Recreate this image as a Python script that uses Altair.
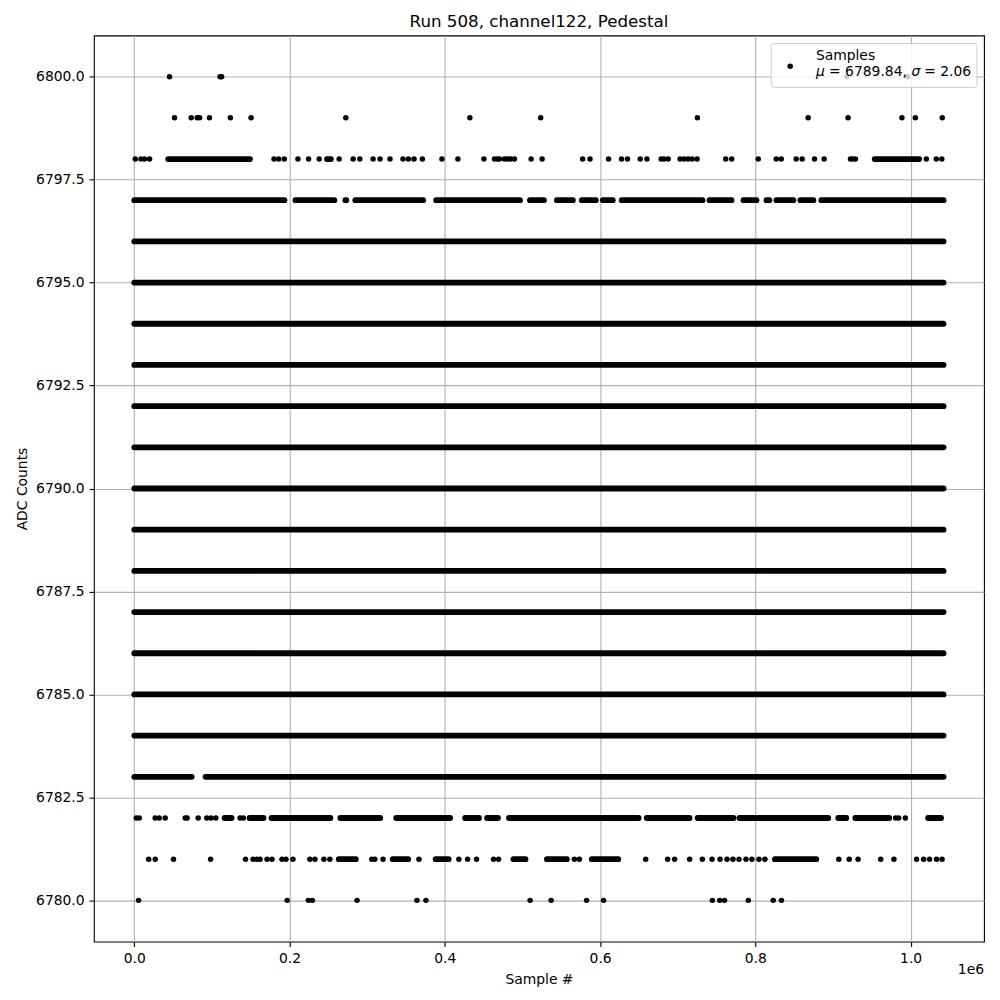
import altair as alt
import pandas as pd

TITLE = "Run 508, channel122, Pedestal"
X_TICKS = [0, 200000, 400000, 600000, 800000, 1000000]
Y_TICKS = [6780.0, 6782.5, 6785.0, 6787.5, 6790.0, 6792.5, 6795.0, 6797.5, 6800.0]
LAST_SAMPLE = 1042400
MU = 6789.84
SIGMA = 2.06

# rows filled continuously over the whole run
dense_levels = list(range(6784, 6797))

# rows with stretches of continuous samples: (first, last) sample of each stretch
seg_6797 = [(0, 193400), (207600, 257700), (271800, 273100), (284700, 372100),
            (388800, 496800), (509600, 527600), (544300, 564900), (576500, 594500),
            (603500, 616300), (627900, 732000), (741000, 769300), (784700, 801400),
            (814300, 818100), (827100, 849000), (858000, 874700), (885000, 1042400)]
seg_6798 = [(43700, 149100), (248100, 253200), (953700, 1011000)]
seg_6783 = [(0, 73900), (91800, 1042400)]
seg_6782 = [(116300, 125300), (148500, 166400), (176700, 252600), (265400, 316800),
            (337400, 406800), (426100, 444100), (454400, 468500), (482600, 649700),
            (660000, 715300), (725600, 771900), (779500, 893900), (906800, 917100),
            (928700, 972400), (1022500, 1039200)]
seg_6781 = [(263500, 285300), (332900, 352800), (388200, 404900), (488400, 503900),
            (531500, 557200), (589300, 623400), (825200, 878500)]

# isolated samples
pts_6800 = [45400, 110500, 112500, 917700, 996100]
pts_6799 = [51800, 73300, 81000, 84200, 96800, 123800, 150400, 272500, 432300,
            523500, 725300, 868000, 919400, 988800, 1006000, 1040700]
pts_6798 = [1300, 8600, 13200, 19700, 180000, 186000, 193200, 210800, 224500, 238200,
            263900, 281900, 290500, 307600, 316600, 329400, 346100, 353100, 360300,
            371100, 396300, 416800, 450300, 464000, 467900, 470400, 476900, 480700,
            484600, 489700, 511200, 525300, 577500, 587000, 610900, 627600, 635300,
            651700, 660300, 678700, 682500, 687700, 703100, 708200, 713400, 718500,
            724900, 761800, 769500, 803700, 826900, 833300, 852600, 860300, 876200,
            888600, 922500, 925400, 928900, 1020200, 1033000, 1040200]
pts_6782 = [2600, 6400, 26900, 32100, 39800, 65600, 68100, 82300, 93400, 99000,
            105100, 136200, 140400, 980700, 984600, 993200]
pts_6781 = [18600, 27000, 50500, 98300, 143300, 153000, 158100, 162000, 171000, 177400,
            190200, 195400, 204400, 226200, 232700, 244200, 251900, 305900, 309800,
            320400, 366700, 418100, 429300, 440900, 462700, 469200, 566800, 573300,
            658700, 687000, 696000, 715300, 731700, 744200, 754500, 763500, 771200,
            778900, 787900, 795600, 804600, 812300, 907500, 920900, 932300, 961400,
            978500, 1007700, 1016700, 1024400, 1033400, 1040500]
pts_6780 = [5500, 197000, 224300, 229400, 287000, 364100, 375700, 509900, 536900,
            582600, 604500, 744600, 754100, 760300, 790900, 823000, 833600]

seg_rows = [{"level": lv, "start": 0, "end": LAST_SAMPLE} for lv in dense_levels]
for lv, segs in [(6797, seg_6797), (6798, seg_6798), (6783, seg_6783),
                 (6782, seg_6782), (6781, seg_6781)]:
    for s, e in segs:
        seg_rows.append({"level": lv, "start": s, "end": e})
seg_df = pd.DataFrame(seg_rows)

pt_rows = []
for lv, pts in [(6800, pts_6800), (6799, pts_6799), (6798, pts_6798),
                (6782, pts_6782), (6781, pts_6781), (6780, pts_6780)]:
    for s in pts:
        pt_rows.append({"level": lv, "sample": s})
pt_df = pd.DataFrame(pt_rows)

FONT = "DejaVu Sans"
xscale = alt.Scale(domain=[-52000, 1094500], nice=False, zero=False)
yscale = alt.Scale(domain=[6779, 6801], nice=False, zero=False)
xaxis = alt.Axis(values=X_TICKS, labelExpr="format(datum.value / 1000000, '.1f')",
                 title="Sample #", labelFlush=False)
yaxis = alt.Axis(values=Y_TICKS, format=".1f", title="ADC Counts", labelFlush=False)

segs = alt.Chart(seg_df).mark_rule(strokeWidth=5.8, strokeCap="round", color="black").encode(
    x=alt.X("start:Q", scale=xscale, axis=xaxis),
    x2="end:Q",
    y=alt.Y("level:Q", scale=yscale, axis=yaxis),
)
pts = alt.Chart(pt_df).mark_circle(size=30, color="black", opacity=1).encode(
    x=alt.X("sample:Q", scale=xscale, axis=xaxis),
    y=alt.Y("level:Q", scale=yscale, axis=yaxis),
)

one = pd.DataFrame({"k": [0]})
leg_box = alt.Chart(one).mark_rect(fill="white", fillOpacity=0.8, stroke="#cccccc",
                                   strokeWidth=1, cornerRadius=3).encode(
    x=alt.value(678), x2=alt.value(884), y=alt.value(8), y2=alt.value(52))
leg_pt = alt.Chart(one).mark_circle(size=30, color="black", opacity=1).encode(
    x=alt.value(697), y=alt.value(30.7))

def txt(s, x, y, italic=False, align="left", baseline="alphabetic", size=13.9):
    return alt.Chart(one).mark_text(
        text=s, font=FONT, fontSize=size, color="black", align=align, baseline=baseline,
        fontStyle="italic" if italic else "normal").encode(x=alt.value(x), y=alt.value(y))

leg_txt = [
    txt("Samples", 722.7, 24.5),
    txt("\u03bc", 722.7, 41, italic=True),
    txt(f"= {MU:.2f},", 735.9, 41),
    txt("\u03c3", 818.3, 41, italic=True),
    txt(f"= {SIGMA:.2f}", 831.1, 41),
]
offset_txt = txt("1e6", 891, 935, align="right", baseline="middle")
title_txt = txt(TITLE, 445.5, -8.5, align="center", size=16.7)

chart = alt.layer(segs, pts, leg_box, leg_pt, *leg_txt, offset_txt, title_txt).properties(
    width=891, height=907,
    autosize=alt.AutoSizeParams(type="none"),
    padding={"left": 86, "top": 27, "right": 8, "bottom": 50},
).configure_view(stroke="black", strokeWidth=1.1).configure_axis(
    grid=True, gridColor="#b0b0b0", gridWidth=1.1, domain=False,
    tickColor="black", tickWidth=1.1, tickSize=4.9,
    labelFont=FONT, labelFontSize=13.9, labelColor="black", labelPadding=4.9,
    titleFont=FONT, titleFontSize=13.9, titleFontWeight="normal", titleColor="black",
).configure_axisX(titlePadding=7).configure_axisY(titlePadding=5.6)

chart.save("out.html", embed_options={"renderer": "svg", "actions": False})
